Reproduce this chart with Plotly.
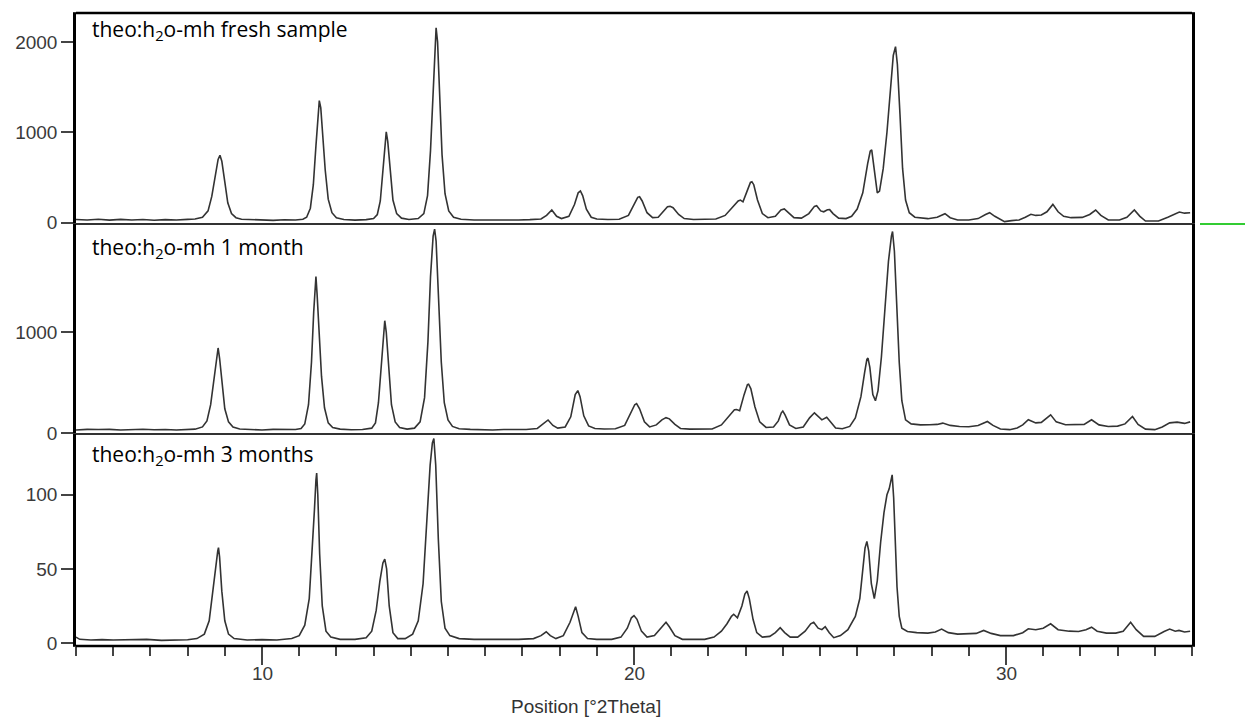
import plotly.graph_objects as go
from plotly.subplots import make_subplots

# ---------------- data ----------------
x_fresh = [5.0, 5.3, 5.6, 5.9, 6.2, 6.5, 6.8, 7.1, 7.4, 7.7, 8.0, 8.2, 8.4, 8.55, 8.65, 8.75, 8.82, 8.87, 8.92, 9.0,
           9.08, 9.18, 9.3, 9.45, 9.7, 10.0, 10.3, 10.6, 10.9, 11.1, 11.2, 11.3, 11.38, 11.45, 11.5, 11.54, 11.58,
           11.63, 11.7, 11.78, 11.88, 12.0, 12.2, 12.5, 12.8, 13.0, 13.1, 13.18, 13.25, 13.3, 13.34, 13.38, 13.44,
           13.52, 13.62, 13.75, 13.95, 14.2, 14.35, 14.45, 14.53, 14.6, 14.65, 14.68, 14.72, 14.77, 14.84, 14.92,
           15.02, 15.15, 15.35, 15.7, 16.0, 16.3, 16.6, 16.9, 17.2, 17.5, 17.65, 17.79, 17.92, 18.05, 18.25, 18.4,
           18.5, 18.56, 18.62, 18.72, 18.85, 19.0, 19.3, 19.6, 19.85, 20.0, 20.1, 20.15, 20.22, 20.35, 20.5, 20.65,
           20.8, 20.9, 20.97, 21.05, 21.2, 21.35, 21.6, 21.9, 22.2, 22.45, 22.65, 22.8, 22.86, 22.93, 23.05, 23.13,
           23.17, 23.22, 23.32, 23.45, 23.6, 23.8, 23.95, 24.04, 24.15, 24.3, 24.5, 24.7, 24.85, 24.91, 25.02, 25.1,
           25.2, 25.26, 25.35, 25.5, 25.7, 25.85, 26.0, 26.15, 26.28, 26.35, 26.39, 26.45, 26.54, 26.6, 26.7, 26.8,
           26.9, 26.97, 27.03, 27.08, 27.15, 27.22, 27.3, 27.4, 27.55, 27.9, 28.15, 28.36, 28.5, 28.7, 29.0, 29.25,
           29.45, 29.56, 29.7, 29.82, 29.96, 30.15, 30.35, 30.52, 30.67, 30.8, 30.95, 31.1, 31.26, 31.4, 31.55,
           31.75, 32.05, 32.25, 32.41, 32.55, 32.75, 33.05, 33.25, 33.45, 33.6, 33.75, 34.1, 34.35, 34.55, 34.66,
           34.8, 34.95]
y_fresh = [35, 30, 38, 28, 36, 30, 34, 27, 33, 30, 36, 40, 60, 130, 290, 560, 700, 745, 680, 450,
           220, 100, 55, 38, 32, 30, 25, 32, 30, 38, 60, 160, 420, 850, 1200, 1350, 1270,
           1000, 580, 260, 110, 55, 35, 28, 33, 45, 90, 240, 560, 880, 1005, 900, 580,
           250, 100, 50, 35, 45, 100, 300, 800, 1500, 2000, 2155, 2000, 1450, 750, 320,
           130, 60, 38, 30, 28, 34, 30, 30, 33, 40, 80, 140, 70, 45, 70, 200,
           330, 351, 300, 150, 60, 40, 35, 38, 80, 200, 280, 286, 240, 110, 55, 60,
           130, 175, 180, 165, 90, 45, 35, 35, 40, 80, 170, 240, 250, 230, 360, 445,
           453, 420, 250, 100, 55, 70, 140, 151, 110, 55, 50, 100, 180, 188, 130, 120,
           142, 144, 100, 50, 45, 70, 150, 330, 650, 790, 806, 620, 330, 350, 600, 1000,
           1500, 1850, 1948, 1750, 1200, 600, 250, 110, 60, 44, 60, 99, 55, 30, 29, 45,
           90, 110, 70, 40, 11, 22, 30, 60, 92, 80, 85, 120, 202, 120, 70,
           55, 58, 90, 140, 80, 30, 29, 60, 140, 70, 18, 18, 60, 100, 118,
           105, 110]

x_1month = [5.0, 5.3, 5.6, 5.9, 6.2, 6.5, 6.8, 7.1, 7.4, 7.7, 8.0, 8.2, 8.4, 8.52, 8.62, 8.72, 8.79, 8.82, 8.86,
            8.93, 9.0, 9.1, 9.22, 9.4, 9.7, 10.0, 10.3, 10.6, 10.9, 11.05, 11.15, 11.25, 11.33, 11.39, 11.43, 11.45,
            11.48, 11.53, 11.6, 11.68, 11.78, 11.9, 12.1, 12.4, 12.7, 12.95, 13.05, 13.13, 13.2, 13.26, 13.3, 13.34,
            13.4, 13.48, 13.58, 13.7, 13.9, 14.1, 14.25, 14.37, 14.46, 14.53, 14.6, 14.64, 14.68, 14.74, 14.82, 14.9,
            15.0, 15.12, 15.3, 15.6, 15.9, 16.2, 16.5, 16.8, 17.1, 17.4, 17.55, 17.69, 17.82, 17.95, 18.15, 18.3,
            18.42, 18.49, 18.55, 18.65, 18.78, 18.95, 19.2, 19.5, 19.75, 19.92, 20.02, 20.07, 20.15, 20.28, 20.42,
            20.6, 20.75, 20.86, 20.95, 21.1, 21.25, 21.5, 21.8, 22.1, 22.35, 22.55, 22.7, 22.76, 22.84, 22.96, 23.05,
            23.08, 23.14, 23.25, 23.38, 23.55, 23.75, 23.88, 23.96, 24.0, 24.06, 24.18, 24.35, 24.55, 24.72, 24.85,
            24.95, 25.05, 25.18, 25.28, 25.42, 25.6, 25.8, 25.95, 26.1, 26.2, 26.26, 26.29, 26.34, 26.42, 26.49,
            26.56, 26.65, 26.75, 26.84, 26.92, 26.95, 27.0, 27.06, 27.13, 27.2, 27.3, 27.45, 27.7, 27.95, 28.15,
            28.3, 28.5, 28.75, 29.0, 29.25, 29.5, 29.65, 29.85, 30.1, 30.3, 30.45, 30.6, 30.8, 30.95, 31.2, 31.35,
            31.6, 31.85, 32.1, 32.3, 32.5, 32.75, 33.0, 33.2, 33.4, 33.55, 33.75, 34.0, 34.2, 34.4, 34.6, 34.8, 34.95]
y_1month = [30, 36, 34, 36, 30, 33, 37, 32, 35, 30, 33, 38, 60, 120, 280, 560, 760, 842, 740,
            480, 240, 110, 60, 40, 34, 30, 36, 32, 35, 45, 90, 280, 700, 1200, 1500, 1550,
            1380, 1000, 560, 250, 100, 55, 38, 32, 35, 48, 100, 300, 650, 980, 1112, 1000,
            640, 280, 110, 55, 38, 48, 110, 350, 900, 1550, 1950, 2020, 1900, 1400, 700, 300,
            130, 65, 42, 36, 33, 30, 35, 32, 35, 45, 90, 129, 75, 48, 60, 160,
            380, 420, 360, 170, 70, 45, 40, 42, 75, 200, 280, 291, 240, 110, 60,
            80, 130, 152, 140, 85, 45, 38, 36, 40, 80, 170, 230, 232, 220, 380, 480,
            484, 440, 260, 110, 55, 60, 120, 200, 216, 180, 80, 45, 60, 150, 200,
            160, 130, 155, 110, 50, 42, 65, 150, 360, 600, 730, 742, 650, 380, 320,
            420, 750, 1250, 1700, 1950, 1996, 1800, 1300, 700, 320, 130, 90, 80, 82, 85,
            98, 75, 65, 62, 75, 114, 75, 40, 33, 50, 80, 131, 100, 105, 180, 110,
            82, 80, 85, 131, 80, 65, 68, 90, 163, 85, 38, 33, 60, 100, 108, 95, 110]

x_3months = [5.0, 5.1, 5.4, 5.7, 6.0, 6.4, 6.9, 7.3, 7.7, 8.0, 8.25, 8.45, 8.58, 8.68, 8.76, 8.81, 8.83, 8.86,
             8.92, 9.0, 9.1, 9.25, 9.6, 10.0, 10.4, 10.8, 11.0, 11.15, 11.27, 11.35, 11.41, 11.45, 11.47, 11.5,
             11.55, 11.62, 11.72, 11.85, 12.1, 12.5, 12.8, 12.95, 13.07, 13.17, 13.25, 13.3, 13.35, 13.42, 13.52,
             13.65, 13.85, 14.05, 14.2, 14.33, 14.43, 14.52, 14.58, 14.62, 14.67, 14.74, 14.82, 14.92, 15.05, 15.3,
             15.7, 16.1, 16.5, 16.9, 17.3, 17.5, 17.64, 17.75, 17.9, 18.1, 18.28, 18.38, 18.43, 18.5, 18.6, 18.75,
             19.0, 19.4, 19.65, 19.82, 19.93, 20.0, 20.08, 20.2, 20.35, 20.55, 20.72, 20.86, 20.95, 21.1, 21.3,
             21.6, 21.9, 22.15, 22.35, 22.5, 22.62, 22.68, 22.78, 22.9, 22.98, 23.04, 23.1, 23.2, 23.3, 23.45,
             23.65, 23.8, 23.93, 24.05, 24.2, 24.4, 24.6, 24.75, 24.83, 24.95, 25.05, 25.14, 25.25, 25.37, 25.55,
             25.75, 25.95, 26.07, 26.15, 26.21, 26.26, 26.31, 26.38, 26.46, 26.54, 26.63, 26.72, 26.8, 26.86,
             26.9, 26.94, 26.98, 27.02, 27.07, 27.13, 27.2, 27.35, 27.6, 27.9, 28.1, 28.27, 28.45, 28.7, 29.0,
             29.2, 29.4, 29.6, 29.85, 30.2, 30.45, 30.6, 30.8, 31.0, 31.2, 31.4, 31.7, 31.95, 32.15, 32.3, 32.45,
             32.7, 32.95, 33.15, 33.35, 33.5, 33.7, 34.0, 34.25, 34.4, 34.55, 34.65, 34.8, 34.95]
y_3months = [4, 2.5, 2, 2.3, 2, 2.2, 2.5, 1.8, 2, 2.2, 3, 6, 15, 35, 55, 62, 64.4, 58,
             35, 15, 6, 3, 2, 2.3, 2, 3, 5, 12, 30, 60, 90, 110, 114.6, 100,
             60, 25, 8, 4, 2.5, 2.5, 3.5, 8, 22, 42, 54, 56.6, 50, 25, 7,
             3, 3, 6, 15, 40, 80, 120, 135, 138, 120, 70, 28, 10, 5, 3,
             2.5, 2.5, 2, 2.5, 3, 5, 7.6, 5, 3, 5, 14, 22, 24.5, 18, 7, 3,
             2.5, 2.5, 4, 10, 17, 18.5, 16, 8, 4, 5, 10, 14, 11, 5, 2.5,
             2.5, 2.5, 4, 8, 13, 18, 19.4, 17, 25, 33, 35.1, 30, 16, 7, 4,
             4.5, 7, 10.3, 7, 4, 4, 8, 13, 14, 10, 9, 11, 7, 3.6, 5,
             9, 18, 30, 48, 64, 68.5, 62, 40, 30, 42, 68, 88, 100, 104,
             109, 113.4, 98, 70, 38, 18, 10, 7.8, 7, 6.7, 7.5, 9.4, 7, 6, 6,
             6.5, 8.5, 6.5, 5, 5, 7, 9.6, 9, 10, 13, 9, 8, 7.8, 9, 10.7, 8,
             6.7, 6.7, 8, 14, 9, 4.5, 4.5, 7.8, 9.4, 8, 8.5, 7.5, 8]

panel_labels = ["theo:h<sub>2</sub>o-mh fresh sample",
                "theo:h<sub>2</sub>o-mh 1 month",
                "theo:h<sub>2</sub>o-mh 3 months"]
y_ticks = [[0, 1000, 2000], [0, 1000], [0, 50, 100]]
x_ticks = [10, 20, 30]
x_title = "Position [°2Theta]"

# ---------------- figure ----------------
W, H = 1245, 723
ML, MR, MT, MB = 76, 53, 13, 77
plot_h = H - MT - MB

fig = make_subplots(rows=3, cols=1, shared_xaxes=True, vertical_spacing=0,
                    row_heights=[211, 210, 212])

line_style = dict(color="#333333", width=1.6)
for i, (xs, ys) in enumerate([(x_fresh, y_fresh), (x_1month, y_1month), (x_3months, y_3months)]):
    fig.add_trace(go.Scatter(x=xs, y=ys, mode="lines", line=line_style,
                             showlegend=False, hoverinfo="skip"), row=i + 1, col=1)

tick_font = dict(family="Liberation Sans, Arial", size=19, color="#3a3a3a")
y_ranges = [[-15, 2320], [-10, 2070], [-2, 141]]
for i in range(3):
    fig.update_yaxes(row=i + 1, col=1, range=y_ranges[i], tickvals=y_ticks[i],
                     showline=True, mirror=True, linecolor="black", linewidth=2.5,
                     ticks="outside", ticklen=12, tickwidth=1.5, tickcolor="#444",
                     showgrid=False, zeroline=False, tickfont=tick_font)
    fig.update_xaxes(row=i + 1, col=1, range=[5, 35], showline=True, mirror=True,
                     linecolor="#333", linewidth=1, showgrid=False, zeroline=False)

fig.update_xaxes(row=1, col=1, ticks="", showticklabels=False)
fig.update_xaxes(row=2, col=1, ticks="", showticklabels=False)
fig.update_xaxes(row=3, col=1, tickvals=x_ticks, ticks="outside", ticklen=18, tickwidth=1.5,
                 tickcolor="#444", showticklabels=False,
                 minor=dict(ticks="outside", dtick=1, tick0=0, ticklen=9, tickwidth=1.5,
                            tickcolor="#444", showgrid=False))

def py(px):
    return 1 - (px - MT) / plot_h

def pxx(px):
    return (px - ML) / (W - ML - MR)

# x tick labels placed a little lower than plotly's default, as in the reference
for xv in x_ticks:
    fig.add_annotation(text=str(xv), x=xv, xref="x3", y=py(673), yref="paper",
                       xanchor="center", yanchor="middle", showarrow=False, font=tick_font)

label_y = [30, 248, 455]
for lab, yy in zip(panel_labels, label_y):
    fig.add_annotation(text=lab, x=pxx(90), y=py(yy), xref="paper", yref="paper",
                       xanchor="left", yanchor="middle", showarrow=False,
                       font=dict(family="Open Sans, Noto Sans, sans-serif", size=21, color="black"))

fig.add_annotation(text=x_title, x=pxx(586), y=py(706), xref="paper", yref="paper",
                   xanchor="center", yanchor="middle", showarrow=False,
                   font=dict(family="Liberation Sans, Arial", size=19, color="#333"))

# outer frame: top and bottom border lines drawn thicker than the dividers
fig.add_shape(type="line", xref="paper", yref="paper", x0=0, x1=1, y0=1, y1=1,
              line=dict(color="black", width=2.5))
fig.add_shape(type="line", xref="paper", yref="paper", x0=0, x1=1, y0=0, y1=0,
              line=dict(color="black", width=2.5))

# small green marker line at right of the first divider
fig.add_shape(type="line", xref="paper", yref="paper", x0=pxx(1200), x1=pxx(1245),
              y0=py(224), y1=py(224), line=dict(color="#33cc33", width=2))

fig.update_layout(width=W, height=H, autosize=False,
                  margin=dict(l=ML, r=MR, t=MT, b=MB),
                  paper_bgcolor="white", plot_bgcolor="white")

fig.write_html("out.html")
